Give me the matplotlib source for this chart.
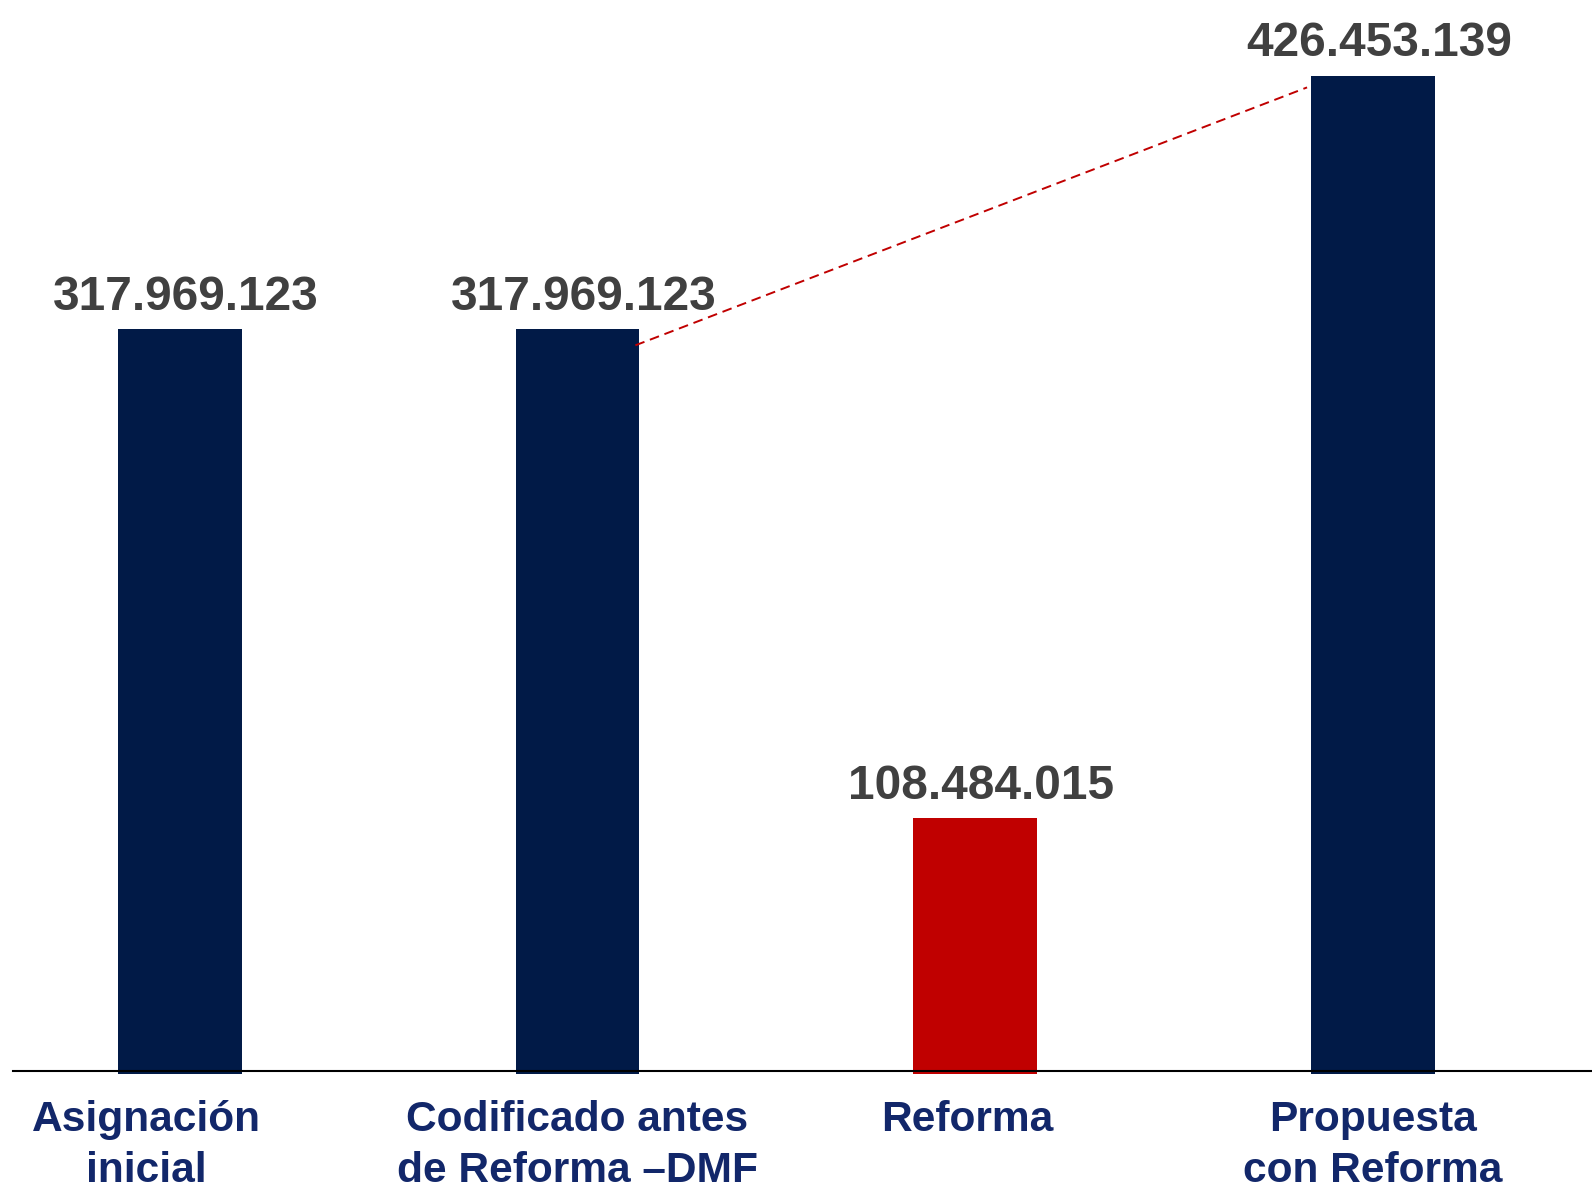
import numpy as np
import matplotlib.pyplot as plt

plt.rcParams['font.family'] = ['Liberation Sans', 'DejaVu Sans']

# Data
categorias = ['Asignación\ninicial', 'Codificado antes\nde Reforma –DMF', 'Reforma', 'Propuesta\ncon Reforma']
valores = np.array([317969123, 317969123, 108484015, 426453139])
etiquetas = ['317.969.123', '317.969.123', '108.484.015', '426.453.139']
colores = ['#011A47', '#011A47', '#C00000', '#011A47']

fig = plt.figure(figsize=(15.92, 11.84), dpi=100)
ax = fig.add_axes([13 / 1568, 0, 1 - 13 / 1568, 1])

x = np.arange(len(valores))
v = valores / 1e6
ancho = 0.311

ax.bar(x, v + 1.3, bottom=-1.3, width=ancho, color=colores, zorder=2)

# value labels
for xi, vi, lab in zip(x, v, etiquetas):
    ax.text(xi + 0.015, vi + 4, lab, ha='center', va='bottom', fontsize=34.5,
            fontweight='bold', color='#404040')

# category labels (first and third sit a bit left of their bar)
desplaz = {0: -0.085, 2: -0.02}
for xi, cat in zip(x, categorias):
    ax.text(xi + desplaz.get(xi, 0), -12.5, cat, ha='center', va='top', fontsize=30.6,
            fontweight='bold', color='#12276A', linespacing=1.33)

# dashed connector between bar 2 and bar 4
ax.plot([1 + ancho / 2 - 0.01, 3 - ancho / 2 - 0.01], [v[1] - 7, v[3] - 5],
        color='#C00000', linestyle=(0, (5, 3)), linewidth=1.4, zorder=3)

ax.set_xlim(-0.419, 3.551)
ax.set_ylim(-48.3, 458.9)
for s in ['top', 'right', 'left']:
    ax.spines[s].set_visible(False)
ax.spines['bottom'].set_position(('data', 0))
ax.spines['bottom'].set_linewidth(1.5)
ax.spines['bottom'].set_zorder(3)
ax.set_xticks([])
ax.set_yticks([])

fig.savefig('out.png', dpi=100)
